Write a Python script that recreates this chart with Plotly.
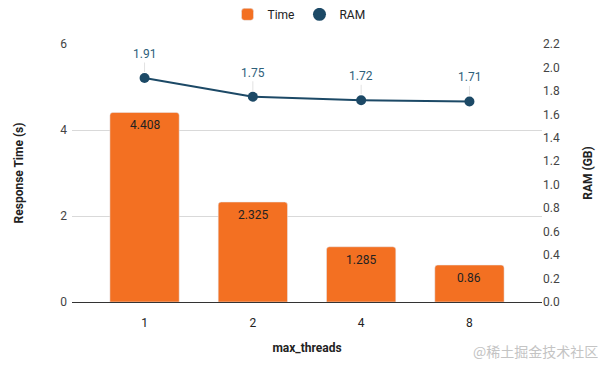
import plotly.graph_objects as go

categories = ["1", "2", "4", "8"]
time_values = [4.408, 2.325, 1.285, 0.86]
ram_values = [1.91, 1.75, 1.72, 1.71]
left_ticks = [0, 2, 4, 6]
right_ticks = [0.0, 0.2, 0.4, 0.6, 0.8, 1.0, 1.2, 1.4, 1.6, 1.8, 2.0, 2.2]

ORANGE = "#F37022"
NAVY = "#1C4966"
LABEL = "#2E607A"
FONT = "Roboto, Arial, sans-serif"

fig = go.Figure()
fig.add_trace(go.Bar(
    x=categories, y=time_values, name="Time", marker_color=ORANGE,
    width=0.64, yaxis="y", showlegend=True,
))
fig.add_trace(go.Scatter(
    x=categories, y=ram_values, name="RAM", mode="lines+markers",
    line=dict(color=NAVY, width=2), marker=dict(color=NAVY, size=10),
    yaxis="y2", showlegend=False,
))
fig.add_trace(go.Scatter(
    x=[None], y=[None], name="RAM", mode="markers",
    marker=dict(color=NAVY, size=13), yaxis="y2", showlegend=True,
))

annotations = []
for i, v in enumerate(time_values):
    annotations.append(dict(
        x=i, y=v, xref="x", yref="y", text=f"{v:g}", showarrow=False,
        yanchor="top", yshift=-4, font=dict(color="#222222", size=12, family=FONT),
    ))
for i, v in enumerate(ram_values):
    annotations.append(dict(
        x=i, y=v, xref="x", yref="y2", text=f"{v:g}", showarrow=True,
        ax=0, ay=-24, arrowhead=0, arrowwidth=1, arrowcolor="#e2e2e2",
        standoff=6, font=dict(color=LABEL, size=12, family=FONT),
    ))
annotations.append(dict(
    x=1, y=0, xref="paper", yref="paper", xanchor="right", yanchor="top",
    xshift=58, yshift=-37, text="@稀土掘金技术社区", showarrow=False,
    font=dict(color="#c4c4c4", size=14, family="Noto Sans CJK SC"),
))

fig.update_layout(
    width=598, height=363,
    margin=dict(l=64, r=64, t=36, b=69, autoexpand=False),
    paper_bgcolor="white", plot_bgcolor="white",
    font=dict(family=FONT, size=12, color="#444444"),
    barcornerradius=3,
    legend=dict(orientation="h", x=0.483, xanchor="center", y=1.115, yanchor="middle",
                yref="paper", font=dict(size=12, color="#222222"),
                itemwidth=30, tracegroupgap=0),
    annotations=annotations,
    xaxis=dict(
        type="category", range=[-0.67, 3.67], showgrid=False,
        showline=False, ticks="", tickfont=dict(size=12, color="#222222"),
        ticklabelstandoff=12,
        title=dict(text="<b>max_threads</b>", font=dict(size=12, color="#222222"), standoff=14),
    ),
    yaxis=dict(
        range=[0, 6], tickvals=left_ticks, showgrid=True, gridcolor="#d9d9d9",
        zeroline=True, zerolinecolor="#333333", zerolinewidth=1,
        tickfont=dict(size=12, color="#444444"), ticks="", ticklabelstandoff=4,
        title=dict(text="<b>Response Time (s)</b>", font=dict(size=12, color="#222222"), standoff=34),
    ),
    yaxis2=dict(
        range=[0, 2.2], tickvals=right_ticks, ticktext=[f"{t:.1f}" for t in right_ticks],
        overlaying="y", side="right", showgrid=False, zeroline=False,
        tickfont=dict(size=12, color="#444444"), ticks="",
        title=dict(text="<b>RAM (GB)</b>", font=dict(size=12, color="#222222"), standoff=24),
    ),
)

fig.write_html("out.html")
